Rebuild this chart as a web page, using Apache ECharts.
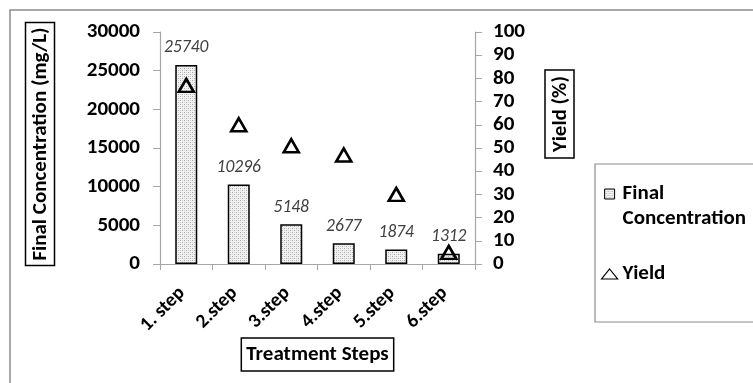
<!DOCTYPE html>
<html>
<head>
<meta charset="utf-8">
<script src="https://cdn.jsdelivr.net/npm/echarts@6/dist/echarts.min.js"></script>
<style>
  html, body { margin: 0; padding: 0; background: #fff; }
  #chart { width: 753px; height: 383px; }
</style>
</head>
<body>
<div id="chart"></div>
<script>
// Treatment steps and measured values
const steps = ['1. step', '2.step', '3.step', '4.step', '5.step', '6.step'];
const concentration = [25740, 10296, 5148, 2677, 1874, 1312]; // mg/L
const yieldPct = [77, 60, 51, 47, 30, 5];                      // %
const concTicks = { min: 0, max: 30000, interval: 5000 };
const yieldTicks = { min: 0, max: 100, interval: 10 };

const FONT = 'Carlito, Lato, "Open Sans", sans-serif';
const FS = 21;

// stippled fill for the concentration bars
function stipple() {
  const c = document.createElement('canvas');
  c.width = 4; c.height = 4;
  const g = c.getContext('2d');
  g.fillStyle = '#f2f2f2';
  g.fillRect(0, 0, 4, 4);
  g.fillStyle = '#a8a8a8';
  g.fillRect(0, 0, 1, 1);
  g.fillRect(2, 2, 1, 1);
  g.fillStyle = '#d0d0d0';
  g.fillRect(2, 0, 1, 1);
  g.fillRect(0, 2, 1, 1);
  return { image: c, repeat: 'repeat' };
}
const pattern = stipple();

const boxed = (size, pad) => ({
  fontFamily: FONT, fontSize: size, fontWeight: 'bold', color: '#000',
  borderColor: '#000', borderWidth: 1.5, padding: pad
});
const plain = (v) => String(v);

const chart = echarts.init(document.getElementById('chart'), null, { renderer: 'canvas' });

chart.setOption({
  animation: false,
  backgroundColor: '#fff',
  grid: { left: 160, right: 278, top: 32, bottom: 119, containLabel: false },
  graphic: [
    { type: 'rect', silent: true, z: -1,
      shape: { x: 10, y: 10, width: 800, height: 400 },
      style: { fill: 'none', stroke: '#8c8c8c', lineWidth: 1.5 } },
    { type: 'rect', silent: true,
      shape: { x: 595, y: 164, width: 200, height: 158 },
      style: { fill: 'none', stroke: '#8c8c8c', lineWidth: 1.2 } }
  ],
  legend: {
    orient: 'vertical',
    left: 601,
    top: 156.5,
    padding: 0,
    itemWidth: 16,
    itemHeight: 10,
    itemGap: 30,
    textStyle: { fontFamily: FONT, fontSize: FS, fontWeight: 'bold', color: '#000', lineHeight: 25 },
    formatter: (n) => n === 'Final Concentration' ? '\nFinal\nConcentration' : n,
    data: [
      { name: 'Final Concentration', icon: 'path://M0,0H10V10H0Z',
        itemStyle: { borderWidth: 1, borderColor: '#000' } },
      { name: 'Yield', icon: 'triangle',
        itemStyle: { borderWidth: 1.2, borderColor: '#000' } }
    ]
  },
  xAxis: {
    type: 'category',
    data: steps,
    boundaryGap: true,
    axisLine: { lineStyle: { color: '#a6a6a6', width: 1.2 } },
    axisTick: { show: true, length: 6, alignWithLabel: false, lineStyle: { color: '#a6a6a6' } },
    axisLabel: {
      rotate: 45, margin: 22, padding: [0, 6, 0, 0],
      fontFamily: FONT, fontSize: 19.5, fontWeight: 'bold', color: '#000', interval: 0
    },
    name: 'Treatment Steps',
    nameLocation: 'middle',
    nameGap: 74,
    nameMoveOverlap: false,
    nameTextStyle: Object.assign(boxed(FS, [5, 5, 4, 5]), { lineHeight: 24 })
  },
  yAxis: [
    {
      type: 'value',
      position: 'left',
      min: concTicks.min, max: concTicks.max, interval: concTicks.interval,
      splitLine: { show: false },
      axisLine: { show: true, lineStyle: { color: '#a6a6a6', width: 1.2 } },
      axisTick: { show: true, length: 7, lineStyle: { color: '#a6a6a6' } },
      axisLabel: { margin: 20, fontFamily: FONT, fontSize: FS, fontWeight: 'bold', color: '#000', formatter: plain },
      name: '{s|}{t|Final Concentration (mg/L)}',
      nameLocation: 'middle',
      nameRotate: 90,
      nameGap: 108,
      nameMoveOverlap: false,
      nameTextStyle: {
        rich: {
          s: { width: 8 },
          t: Object.assign(boxed(FS, [5, 5, 3, 5]), { lineHeight: 24 })
        }
      }
    },
    {
      type: 'value',
      position: 'right',
      min: yieldTicks.min, max: yieldTicks.max, interval: yieldTicks.interval,
      splitLine: { show: false },
      axisLine: { show: true, lineStyle: { color: '#a6a6a6', width: 1.2 } },
      axisTick: { show: true, length: 7, lineStyle: { color: '#a6a6a6' } },
      axisLabel: { margin: 18, fontFamily: FONT, fontSize: FS, fontWeight: 'bold', color: '#000', formatter: plain },
      name: '{s|}{t|Yield (%)}',
      nameLocation: 'middle',
      nameRotate: 90,
      nameGap: 73,
      nameMoveOverlap: false,
      nameTextStyle: {
        rich: {
          s: { width: 68 },
          t: Object.assign(boxed(FS, [5, 6, 3, 6]), { lineHeight: 23 })
        }
      }
    }
  ],
  series: [
    {
      name: 'Final Concentration',
      type: 'bar',
      yAxisIndex: 0,
      data: concentration,
      barWidth: 22,
      itemStyle: { color: pattern, borderColor: '#000', borderWidth: 1.5 },
      label: {
        show: true, position: 'top', distance: 8,
        fontFamily: FONT, fontSize: 17.5, fontStyle: 'italic', color: '#404040'
      },
      z: 2
    },
    {
      name: 'Yield',
      type: 'scatter',
      yAxisIndex: 1,
      data: yieldPct,
      symbol: 'triangle',
      symbolSize: [15, 13],
      itemStyle: { color: 'rgba(255,255,255,0)', borderColor: '#000', borderWidth: 2.6, opacity: 1 },
      z: 3
    }
  ]
});
</script>
</body>
</html>
